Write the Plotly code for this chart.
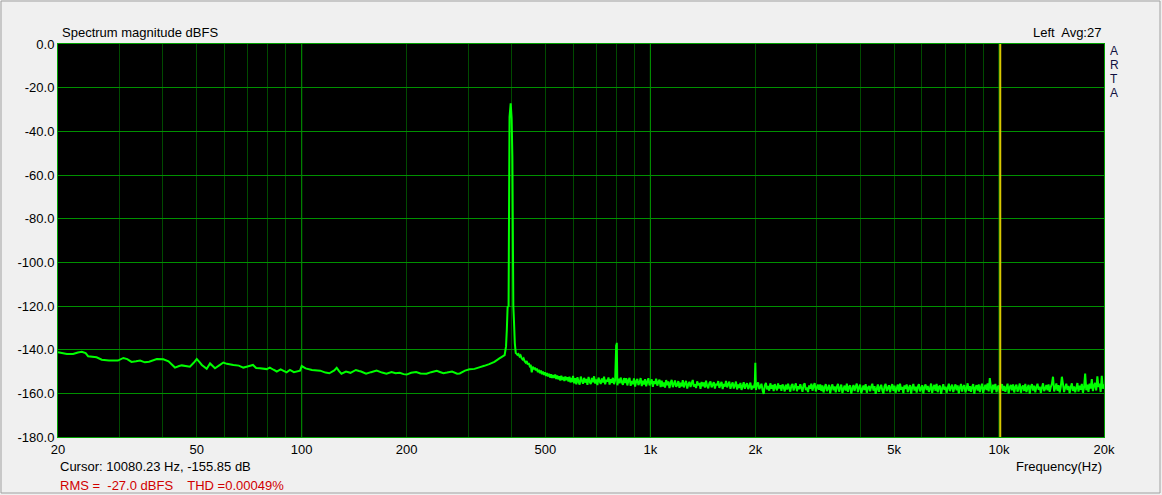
import numpy as np
import plotly.graph_objects as go

# ---------------- data ----------------
# low/mid frequency part: frequency (Hz) and magnitude (dBFS)
lf_freq = [20, 21.2, 22.1, 22.8, 23.4, 24.0, 24.4, 25.8, 26.7, 28.0, 29.7, 30.8, 31.6, 32.5,
           33.5, 34.4, 35.5, 36.5, 38.4, 40.1, 41.5, 43.3, 44.5, 45.3, 47.8, 49.0, 50.0, 51.0,
           51.7, 53.4, 54.6, 56.4, 58.0, 59.6, 61.0, 63.7, 66.0, 68.0, 69.5, 72.5, 74.0, 75.9,
           79.4, 81.0, 83.0, 84.8, 87.0, 89.0, 90.5, 92.5, 95.0, 98.9, 100, 102.6, 107, 113,
           117, 120, 124, 126, 128, 130, 134, 138, 143, 146, 148, 153, 158, 164, 170, 175,
           181, 186, 191, 196, 200, 206, 213, 219, 228, 235, 244, 249, 255, 261, 270, 279,
           284, 294, 303, 313, 323, 334, 345, 357, 369, 376, 382]
lf_db = [-141.2, -142.0, -142.0, -141.3, -141.0, -141.6, -143.0, -143.5, -144.6, -145.0, -145.0,
         -143.8, -144.3, -145.6, -145.3, -145.0, -145.8, -145.5, -144.3, -144.4, -145.3, -148.2,
         -147.5, -147.2, -147.8, -146.0, -144.3, -145.8, -147.0, -148.8, -146.3, -148.5, -147.2,
         -145.9, -146.5, -147.0, -147.3, -148.2, -147.8, -147.0, -148.4, -148.5, -148.9, -148.2,
         -149.2, -150.0, -149.0, -149.8, -150.4, -149.3, -150.3, -149.6, -147.5, -148.6, -149.3,
         -149.6, -150.5, -150.8, -149.5, -148.3, -149.8, -151.0, -150.0, -150.6, -149.3, -149.8,
         -150.0, -151.0, -150.3, -149.6, -150.5, -151.0, -150.2, -150.8, -150.6, -151.2, -151.4,
         -150.6, -150.2, -150.9, -151.0, -150.3, -149.7, -150.2, -150.8, -150.5, -150.0, -151.0,
         -150.9, -149.6, -149.0, -148.8, -148.1, -147.4, -146.6, -145.6, -144.0, -143.2, -142.5]

# fundamental (400 Hz) region
peak_freq = [385.5, 387.5, 389.5, 392, 394.5, 397.5, 400, 402, 404.5, 406.5, 408.5, 411]
peak_db = [-138.5, -131.0, -120.5, -120.0, -33.5, -27.2, -34.0, -52.0, -120.0, -128.0, -137.0, -141.5]

# skirt after the fundamental, 413 .. 598 Hz (log-spaced analyser bins)
mid_start, mid_stop = 413, 598
mid_db = [
    -141.8, -142.4, -142.0, -143.1, -142.6, -143.8, -144.5, -144.0, -145.3, -145.9,
    -145.2, -146.8, -146.1, -147.5, -147.0, -150.4, -147.8, -149.0, -148.2, -149.5,
    -148.6, -150.3, -149.2, -150.8, -149.6, -151.2, -150.0, -151.6, -150.3, -152.0,
    -150.7, -152.3, -151.0, -152.8, -151.3, -153.0, -151.6, -152.9, -151.4, -153.4,
    -151.8, -153.6, -152.2, -154.1, -151.9, -153.8, -152.5, -154.4, -152.3, -154.0,
    -152.6, -154.6, -152.4, -155.0, -153.0, -154.8,
]

# noise floor 600 Hz .. 20 kHz (log-spaced analyser bins)
hf_start, hf_stop = 600, 20000
hf_db = [
    -152.0, -155.4, -153.1, -155.9, -152.6, -154.8, -156.0, -152.3, -154.2, -155.6, -152.9, -155.1, -153.4, -156.1, -152.5, -154.7,
    -155.8, -153.0, -154.9, -152.2, -155.5, -153.6, -156.2, -152.8, -154.4, -155.7, -153.2, -155.0, -152.4, -155.9, -153.8, -154.6,
    -152.7, -156.0, -153.5, -155.2, -152.9, -155.8, -154.1, -152.6, -156.3, -153.3, -155.4, -152.8, -154.9, -156.1, -153.0, -155.3,
    -153.1, -156.4, -154.0, -152.9, -156.6, -154.3, -155.8, -153.2, -156.9, -154.5, -153.4, -156.2, -155.0, -153.0, -156.7, -154.2,
    -155.9, -153.5, -156.8, -154.7, -153.1, -156.3, -155.2, -153.6, -157.0, -154.4, -155.7, -153.3, -156.5, -154.8, -153.7, -157.1,
    -154.2, -156.9, -155.0, -157.4, -153.9, -156.3, -154.6, -157.6, -155.3, -153.8, -157.2, -155.7, -154.1, -157.0, -156.2, -154.4,
    -157.5, -155.1, -156.8, -154.0, -157.3, -155.5, -154.3, -157.8, -156.0, -154.7, -157.1, -155.4, -153.9, -156.9, -155.8, -157.6,
    -154.5, -156.4, -155.2, -157.9, -154.8, -156.7, -155.0, -157.4, -154.2, -156.6, -157.7, -155.3, -154.6, -157.2, -156.1, -154.9,
    -157.8, -155.6, -156.3, -154.4, -157.5, -156.0, -154.8, -158.0, -155.7, -156.9, -154.3, -157.3, -155.9, -154.7, -157.9, -156.2,
    -155.0, -157.8, -156.4, -154.6, -158.2, -156.0, -157.5, -155.2, -158.4, -156.7, -154.9, -157.9, -156.3, -155.4, -158.1, -156.8,
    -155.1, -158.3, -156.5, -157.6, -155.3, -158.5, -156.1, -155.0, -158.0, -157.0, -155.6, -158.6, -160.3, -156.4, -155.2, -158.2,
    -156.6, -158.8, -155.4, -157.9, -156.2, -159.0, -155.8, -157.4, -158.6, -155.5, -157.8, -156.3, -158.9, -155.9, -157.2, -159.1,
    -156.0, -158.3, -155.6, -157.7, -159.2, -156.5, -155.7, -158.7, -157.0, -155.4, -159.0, -156.8, -158.1, -155.8, -157.6, -159.3,
    -156.1, -155.5, -158.5, -157.3, -159.4, -156.4, -157.9, -155.6, -158.8, -156.7, -155.3, -159.1, -157.5, -156.0, -158.4, -155.9,
    -158.9, -156.4, -159.6, -157.2, -155.8, -159.0, -157.7, -156.1, -160.0, -157.4, -155.9, -158.6, -156.8, -159.5, -157.0, -155.7,
    -159.2, -157.6, -156.0, -159.8, -157.9, -156.5, -158.7, -155.6, -159.3, -157.1, -156.3, -160.1, -157.8, -156.2, -158.9, -156.9,
    -155.5, -159.4, -157.3, -156.0, -159.9, -158.2, -156.4, -158.5, -155.8, -159.7, -157.5, -156.6, -159.1, -157.0, -155.6, -158.8,
    -156.7, -160.2, -157.9, -155.9, -159.3, -157.4, -156.1, -158.6, -160.0, -156.8, -155.7, -159.0, -157.6, -156.3, -159.5, -157.2,
    -155.8, -158.9, -156.5, -159.7, -157.8, -156.0, -159.2, -155.6, -158.3, -157.1, -159.9, -156.4, -158.0, -155.9, -159.4, -157.5,
    -156.2, -160.1, -157.3, -155.7, -158.7, -156.9, -159.6, -157.0, -155.8, -159.1, -157.7, -156.3, -160.0, -157.2, -155.9, -158.5,
    -156.6, -159.3, -157.9, -155.5, -159.8, -157.4, -156.1, -158.8, -155.7, -159.5, -157.1, -156.5, -160.2, -157.8, -155.8, -158.4,
    -156.9, -159.7, -157.5, -155.6, -159.0, -157.2, -156.0, -159.4, -157.6, -155.9, -158.6, -156.4, -160.0, -157.3, -155.7, -159.2,
    -157.0, -156.2, -159.6, -157.8, -155.4, -158.9, -156.7, -159.3, -157.1, -155.8, -160.1, -157.5, -156.3, -158.7, -155.9, -159.4,
    -157.2, -155.6, -159.8, -157.7, -156.1, -158.5, -155.5, -159.1, -153.0, -157.4, -159.7, -156.0, -158.3, -155.7, -159.5, -157.3,
    -156.4, -159.9, -157.0, -155.8, -158.8, -156.6, -159.3, -157.5, -155.6, -160.0, -157.2, -156.2, -158.6, -155.9, -159.6, -157.1,
    -156.0, -159.2, -157.8, -155.5, -159.7, -157.3, -156.4, -158.9, -155.7, -159.4, -157.6, -156.1, -160.1, -157.0, -155.8, -158.7,
    -156.5, -159.5, -157.2, -155.6, -158.4, -156.9, -159.8, -157.4, -155.4, -159.0, -157.7, -156.2, -158.6, -155.9, -159.3, -157.1,
    -155.7, -152.4, -159.1, -157.5, -155.5, -158.8, -156.3, -159.6, -157.0, -152.4, -155.8, -159.4, -157.3, -155.6, -158.5, -156.6,
    -159.9, -157.2, -155.4, -158.9, -156.8, -159.5, -157.6, -155.3, -159.2, -156.5, -158.3, -155.7, -159.7, -157.4, -151.0, -158.6,
    -156.0, -159.3, -155.5, -157.8, -153.5, -159.0, -156.4, -155.2, -158.7, -152.2, -157.1, -155.6, -159.4, -152.0, -157.9, -155.8,
]

# harmonics (2nd and 5th)
harm_freq = [798, 801, 2000]
harm_db = [-137.6, -136.8, -146.0]

cursor_freq = 10080.23

x_tick_vals = [20, 50, 100, 200, 500, 1000, 2000, 5000, 10000, 20000]
x_tick_text = ["20", "50", "100", "200", "500", "1k", "2k", "5k", "10k", "20k"]
x_grid_minor = [30, 40, 50, 60, 70, 80, 90, 200, 300, 400, 500, 600, 700, 800, 900,
                2000, 3000, 4000, 5000, 6000, 7000, 8000, 9000]
x_grid_decades = [100, 1000, 10000]
y_tick_vals = [0, -20, -40, -60, -80, -100, -120, -140, -160, -180]
y_tick_text = ["0.0", "-20.0", "-40.0", "-60.0", "-80.0", "-100.0", "-120.0", "-140.0", "-160.0", "-180.0"]

# ---------------- assemble series ----------------
mid_freq = np.geomspace(mid_start, mid_stop, len(mid_db))
hf_freq = np.geomspace(hf_start, hf_stop, len(hf_db))
freq = np.concatenate([lf_freq, peak_freq, mid_freq, hf_freq, harm_freq])
db = np.concatenate([lf_db, peak_db, mid_db, hf_db, harm_db])
order = np.argsort(freq, kind="stable")
freq, db = freq[order], db[order]

# ---------------- figure ----------------
W, H = 1162, 495
L, R, T, B = 58, 58, 44, 58
pw, ph = W - L - R, H - T - B

def px(x):
    return (x - L) / pw

def py(y):
    return (H - B - y) / ph

font = "Liberation Sans, Arial, sans-serif"
fig = go.Figure()
fig.add_trace(go.Scatter(x=freq, y=db, mode="lines",
                         line=dict(color="#00ff00", width=2, simplify=False),
                         hoverinfo="skip", showlegend=False))

shapes = []
for f in x_grid_decades:
    shapes.append(dict(type="line", xref="x", yref="paper", x0=f, x1=f, y0=0, y1=1,
                       line=dict(color="#00a000", width=1), layer="below"))
shapes.append(dict(type="line", xref="x", yref="paper", x0=cursor_freq, x1=cursor_freq,
                   y0=0, y1=1, line=dict(color="#d8c800", width=2), layer="above"))
# outer window frame
shapes.append(dict(type="rect", xref="paper", yref="paper",
                   x0=px(1), x1=px(1160), y0=py(493), y1=py(1),
                   line=dict(color="#a0a0a0", width=1), layer="below"))

annotations = [
    dict(text="Spectrum magnitude dBFS", xref="paper", yref="paper", x=px(60), y=py(33),
         xanchor="left", yanchor="middle", showarrow=False, font=dict(size=13)),
    dict(text="Left  Avg:27", xref="paper", yref="paper", x=px(1103), y=py(33),
         xanchor="right", yanchor="middle", showarrow=False, font=dict(size=13)),
    dict(text="Cursor: 10080.23 Hz, -155.85 dB", xref="paper", yref="paper",
         x=px(58), y=py(467), xanchor="left", yanchor="middle", showarrow=False,
         font=dict(size=13)),
    dict(text="RMS =  -27.0 dBFS    THD =0.00049%", xref="paper", yref="paper",
         x=px(58), y=py(485), xanchor="left", yanchor="middle", showarrow=False,
         font=dict(size=13, color="#d00000")),
    dict(text="Frequency(Hz)", xref="paper", yref="paper", x=px(1104), y=py(467),
         xanchor="right", yanchor="middle", showarrow=False, font=dict(size=13)),
]
for i, ch in enumerate("ARTA"):
    annotations.append(dict(text=ch, xref="paper", yref="paper", x=px(1108), y=py(51 + 14.0 * i),
                            xanchor="left", yanchor="middle", showarrow=False,
                            font=dict(size=12, color="#101040")))

fig.update_layout(
    width=W, height=H,
    margin=dict(l=L, r=R, t=T, b=B),
    paper_bgcolor="#f0f0f0", plot_bgcolor="#000000",
    font=dict(family=font, size=13, color="#000000"),
    shapes=shapes,
    xaxis=dict(type="log", range=[np.log10(20), np.log10(20000)],
               tickmode="array", tickvals=x_tick_vals, ticktext=x_tick_text,
               showgrid=False, zeroline=False, ticks="",
               showline=True, linecolor="#00a000", linewidth=1, mirror=True,
               minor=dict(tickvals=x_grid_minor, showgrid=True, gridcolor="#004a00",
                          gridwidth=1, ticks=""),
               tickfont=dict(size=13)),
    yaxis=dict(range=[-180, 0], tickmode="array", tickvals=y_tick_vals, ticktext=y_tick_text,
               showgrid=True, gridcolor="#009000", gridwidth=1, zeroline=False, ticks="",
               showline=True, linecolor="#00a000", linewidth=1, mirror=True,
               tickfont=dict(size=13)),
    annotations=annotations,
)

fig.write_html("out.html", config={"displayModeBar": False},
               post_script="document.body.style.margin='0';document.body.style.overflow='hidden';")
